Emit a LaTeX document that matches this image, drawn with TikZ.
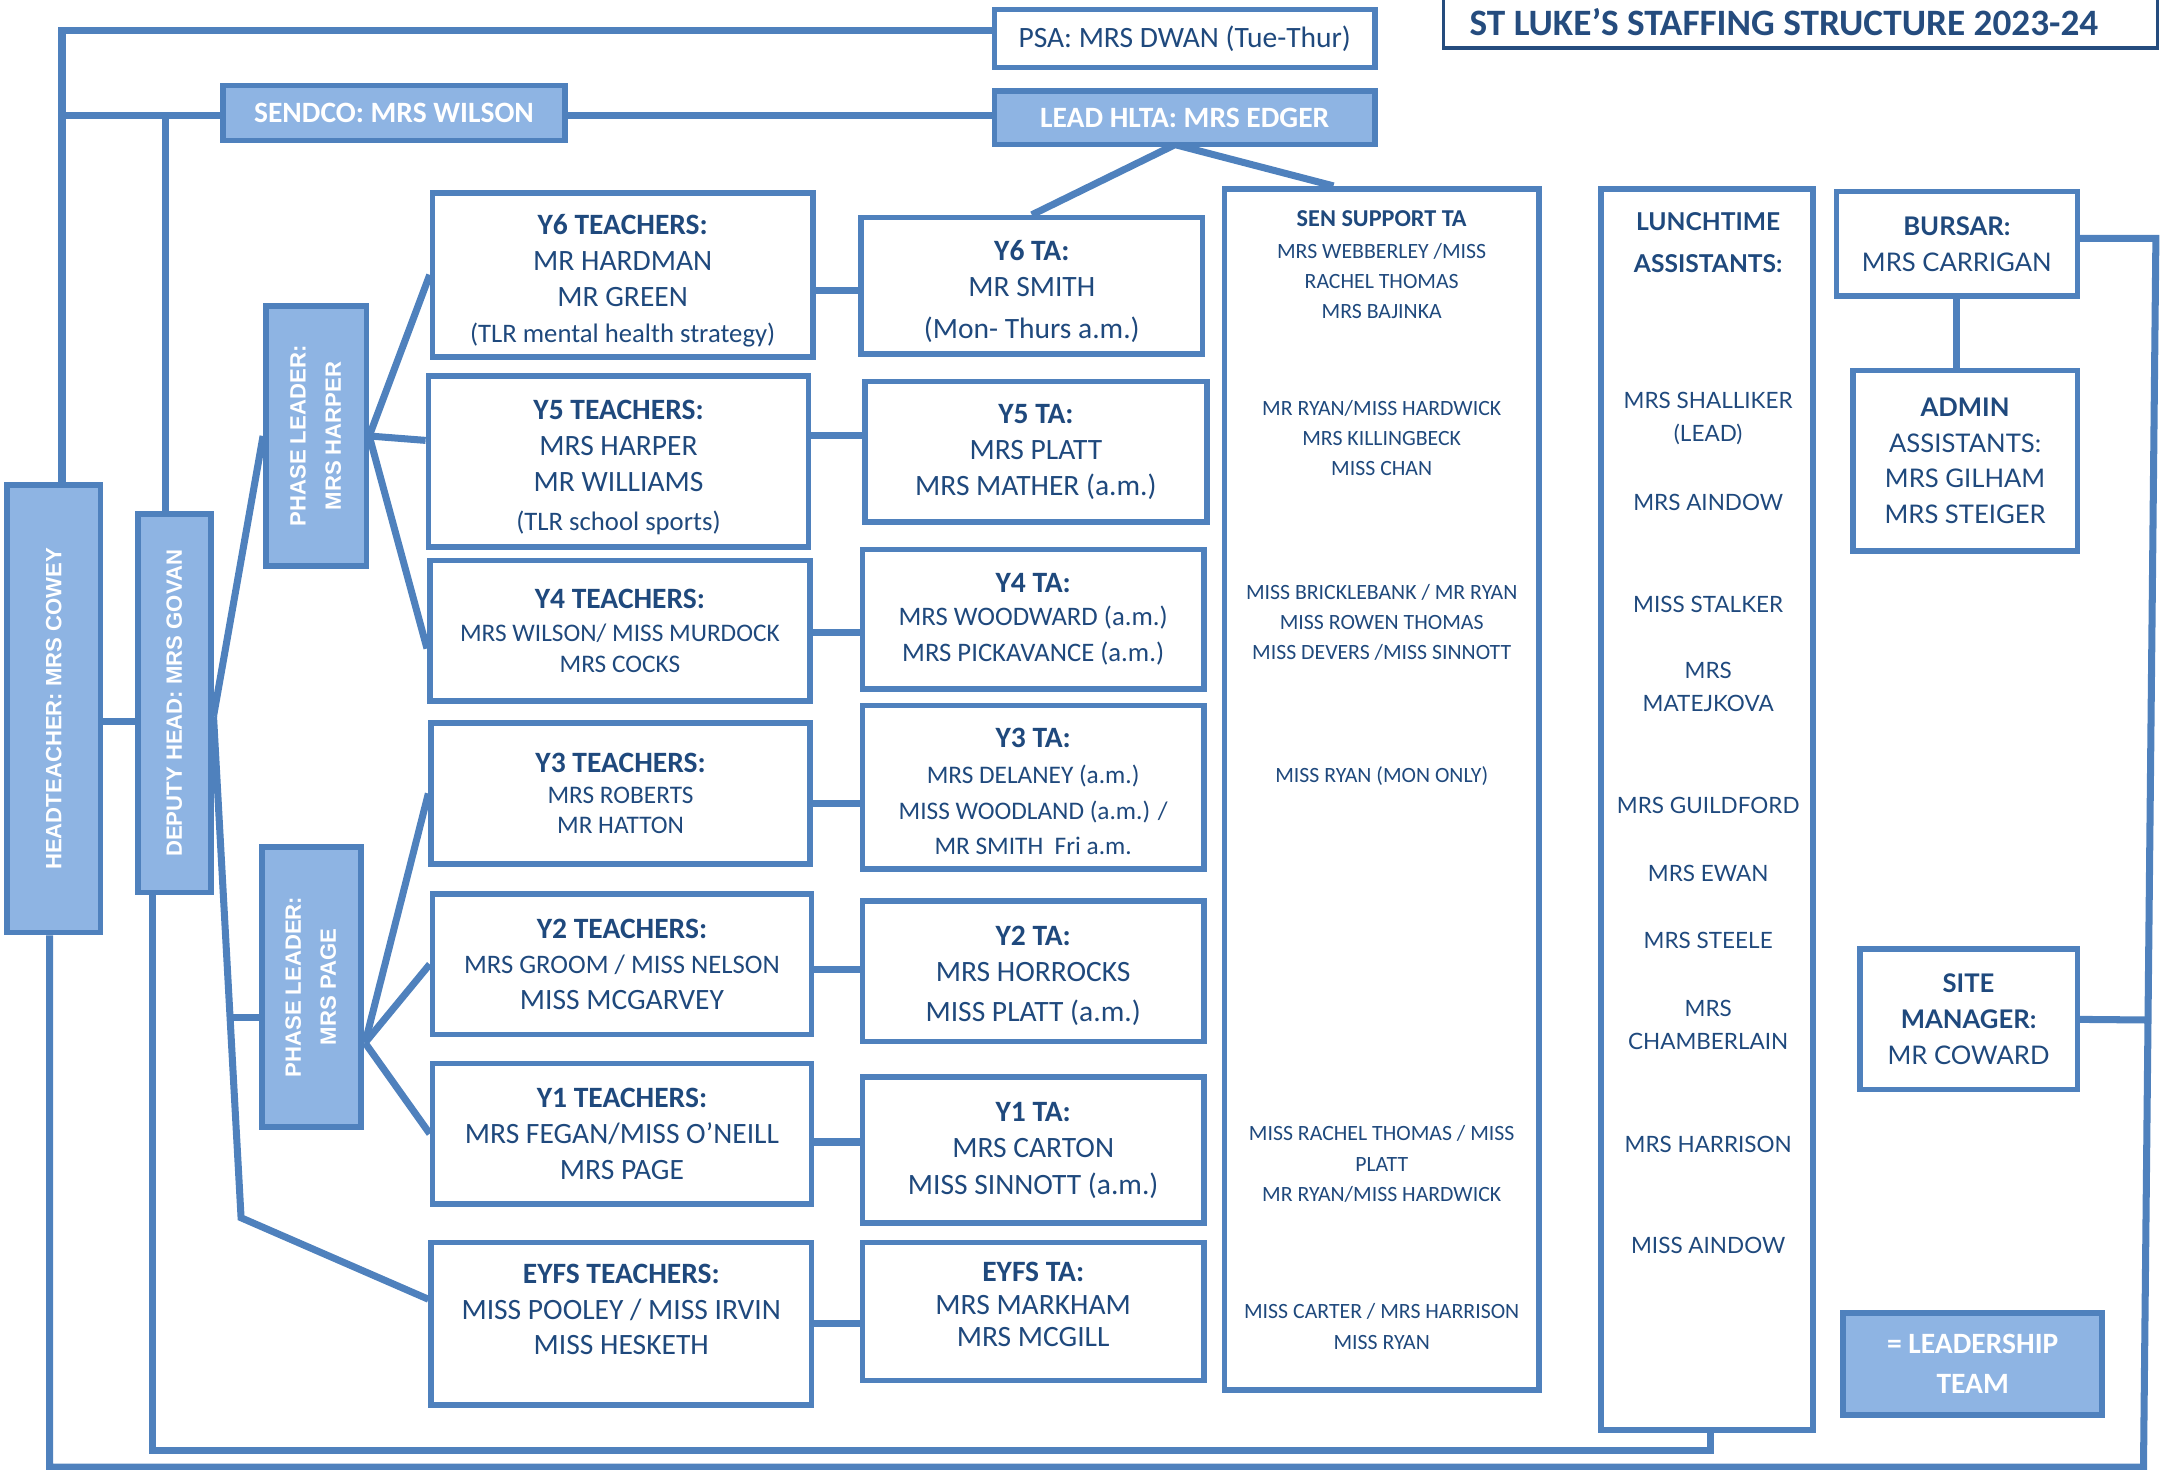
\documentclass[tikz,border=0pt]{standalone}
\usepackage{fontspec}
\setmainfont{Carlito}
\newfontfamily\arialfont{Liberation Sans}
\newfontfamily\gillfont{Lato}
\usepackage{graphicx}
\usetikzlibrary{calc,positioning,backgrounds}
\definecolor{lineblue}{HTML}{4F81BD}
\definecolor{leadfill}{HTML}{8EB4E3}
\definecolor{txtblue}{HTML}{1F497D}
\definecolor{titleblue}{HTML}{254C7E}
\newcommand{\px}{0.013776cm}
\newcommand{\boxsz}{\fontsize{8.4}{10.2}\selectfont}
\newcommand{\smsz}{\fontsize{7.6}{10.2}\selectfont}
\newcommand{\namesz}{\fontsize{7.2}{10.2}\selectfont}
\newcommand{\sensz}{\fontsize{6.2}{8.6}\selectfont}
\newcommand{\gillsz}{\gillfont\fontsize{7.3}{10.2}\selectfont}
\newcommand{\lunchsz}{\gillfont\fontsize{6.4}{9.4}\selectfont}
\newcommand{\vertsz}{\arialfont\bfseries\fontsize{6.3}{10}\selectfont}
\newcommand{\topgap}[1]{\rule{0pt}{#1}}
\tikzset{
  link/.style={draw=lineblue,line width=2pt},
  spans/.style n args={4}{at={({(#1+#3)/2},{(#2+#4)/2})},minimum width={(#3-#1)*\px},minimum height={(#4-#2)*\px}},
  staffbox/.style={draw=lineblue,line width=1.6pt,fill=white,inner sep=0pt,align=center,text=txtblue,font=\boxsz},
  leadbox/.style={staffbox,fill=leadfill,text=white,font=\boxsz\bfseries},
  sentext/.style={align=center,text=txtblue,font=\sensz,inner sep=0pt},
  lunchtext/.style={align=center,text=txtblue,font=\lunchsz,inner sep=0pt},
}

\begin{document}
\begin{tikzpicture}[x=\px,y=-\px]
  \useasboundingbox (0,0) rectangle (1568,1067);
  % title
  \node[draw=titleblue,line width=1pt,inner sep=0pt,spans={1048}{-20}{1566}{35}] (title) {};
  \node[text=titleblue,font=\fontsize{10.6}{12}\selectfont\bfseries] (titletext) at (1295,16) {ST LUKE’S STAFFING STRUCTURE 2023-24};

  % leadership
  \node[staffbox,spans={722}{7}{998}{49}] (psa) {PSA: MRS DWAN (Tue-Thur)};
  \node[leadbox,spans={162}{62}{410}{102}] (sendco) {SENDCO: MRS WILSON};
  \node[leadbox,spans={722}{66}{998}{105}] (hlta) {LEAD HLTA: MRS EDGER};
  \node[leadbox,spans={5}{352}{73}{677}] (head) {\rotatebox{90}{\vertsz HEADTEACHER: MRS COWEY}};
  \node[leadbox,spans={100}{373}{153}{648}] (deputy) {\rotatebox{90}{\vertsz DEPUTY HEAD: MRS GOVAN}};
  \node[leadbox,spans={193}{222}{266}{411}] (harper) {\rotatebox{90}{\vertsz\begin{tabular}{@{}c@{}}PHASE LEADER:\\MRS HARPER\end{tabular}}};
  \node[leadbox,spans={190}{615}{262}{818}] (page) {\rotatebox{90}{\vertsz\begin{tabular}{@{}c@{}}PHASE LEADER:\\MRS PAGE\end{tabular}}};

  % teachers
  \node[staffbox,spans={314}{140}{590}{259}] (y6t) {\topgap{9pt}\textbf{Y6 TEACHERS:}\\MR HARDMAN\\MR GREEN\\{\smsz(TLR mental health strategy)}};
  \node[staffbox,spans={311}{273}{587}{397}] (y5t) {\topgap{9pt}\textbf{Y5 TEACHERS:}\\MRS HARPER\\MR WILLIAMS\\[1pt]{\smsz(TLR school sports)}};
  \node[staffbox,spans={312}{407}{588}{509}] (y4t) {\textbf{Y4 TEACHERS:}\\[-0.8pt]{\namesz MRS WILSON/ MISS MURDOCK}\\[-1.6pt]{\namesz MRS COCKS}};
  \node[staffbox,spans={313}{525}{588}{627}] (y3t) {\textbf{Y3 TEACHERS:}\\[-1.2pt]{\namesz MRS ROBERTS}\\[-1.6pt]{\namesz MR HATTON}};
  \node[staffbox,spans={314}{649}{589}{751}] (y2t) {\textbf{Y2 TEACHERS:}\\{\smsz MRS GROOM / MISS NELSON}\\MISS MCGARVEY};
  \node[staffbox,spans={314}{772}{589}{874}] (y1t) {\textbf{Y1 TEACHERS:}\\MRS FEGAN/MISS O’NEILL\\MRS PAGE};
  \node[staffbox,spans={313}{902}{589}{1020}] (eyfst) {\textbf{EYFS TEACHERS:}\\MISS POOLEY / MISS IRVIN\\MISS HESKETH\\[-2pt]\mbox{}};

  % teaching assistants
  \node[staffbox,spans={625}{158}{873}{257}] (y6ta) {\topgap{9pt}\textbf{Y6 TA:}\\MR SMITH\\[2pt](Mon- Thurs a.m.)};
  \node[staffbox,spans={628}{277}{876}{379}] (y5ta) {\textbf{Y5 TA:}\\MRS PLATT\\MRS MATHER (a.m.)};
  \node[staffbox,spans={626}{399}{874}{500}] (y4ta) {\textbf{Y4 TA:}\\[-0.8pt]{\smsz MRS WOODWARD (a.m.)}\\{\smsz MRS PICKAVANCE (a.m.)}};
  \node[staffbox,spans={626}{512}{874}{631}] (y3ta) {\topgap{8pt}\textbf{Y3 TA:}\\{\namesz MRS DELANEY (a.m.)}\\{\namesz MISS WOODLAND (a.m.) /}\\{\namesz MR SMITH\ \ Fri a.m.}};
  \node[staffbox,spans={626}{654}{874}{756}] (y2ta) {\topgap{8pt}\textbf{Y2 TA:}\\MRS HORROCKS\\[1.2pt]MISS PLATT (a.m.)};
  \node[staffbox,spans={626}{782}{874}{888}] (y1ta) {\textbf{Y1 TA:}\\MRS CARTON\\[0.4pt]MISS SINNOTT (a.m.)};
  \node[staffbox,spans={626}{902}{874}{1002}] (eyfsta) {\textbf{EYFS TA:}\\[-0.8pt]MRS MARKHAM\\[-1.2pt]MRS MCGILL\\[-6pt]\mbox{}};

  % SEN support column
  \node[staffbox,spans={889}{137}{1117}{1009}] (sen) {};
  \node[sentext,font=\fontsize{6.9}{8.6}\selectfont\bfseries] (senhead) at (1003,159) {SEN SUPPORT TA};
  \foreach \i/\yy/\txt in {
    1/204/{MRS WEBBERLEY /MISS\\RACHEL THOMAS\\MRS BAJINKA},
    2/318/{MR RYAN/MISS HARDWICK\\MRS KILLINGBECK\\MISS CHAN},
    3/452/{MISS BRICKLEBANK / MR RYAN\\MISS ROWEN THOMAS\\MISS DEVERS /MISS SINNOTT},
    4/563/{MISS RYAN (MON ONLY)},
    5/845/{MISS RACHEL THOMAS / MISS\\PLATT\\MR RYAN/MISS HARDWICK},
    6/963/{MISS CARTER / MRS HARRISON\\MISS RYAN}}
    \node[sentext] (sen\i) at (1003,\yy) {\txt};

  % lunchtime column
  \node[staffbox,spans={1162}{137}{1316}{1038}] (lunch) {};
  \node[lunchtext,font=\gillfont\fontsize{7}{11.8}\selectfont\bfseries] (lunchhead) at (1240,176) {LUNCHTIME\\ASSISTANTS:};
  \foreach \i/\yy/\txt in {
    1/304/{MRS SHALLIKER\\(LEAD)},
    2/365/MRS AINDOW,
    3/439/MISS STALKER,
    4/499/{MRS\\MATEJKOVA},
    5/585/MRS GUILDFORD,
    6/634/MRS EWAN,
    7/683/MRS STEELE,
    8/744/{MRS\\CHAMBERLAIN},
    9/831/MRS HARRISON,
    10/904/MISS AINDOW}
    \node[lunchtext] (lunch\i) at (1240,\yy) {\txt};

  % office and site
  \node[staffbox,font=\gillsz,spans={1333}{139}{1508}{215}] (bursar) {\textbf{BURSAR:}\\MRS CARRIGAN};
  \node[staffbox,font=\gillsz,spans={1345}{269}{1508}{400}] (admin) {\textbf{ADMIN}\\ASSISTANTS:\\MRS GILHAM\\MRS STEIGER};
  \node[staffbox,font=\gillsz,spans={1350}{689}{1508}{791}] (site) {\textbf{SITE}\\\textbf{MANAGER:}\\MR COWARD};
  \node[leadbox,spans={1338}{953}{1526}{1027}] (legend) {= LEADERSHIP\\[1.2pt]TEAM};

  % connectors
  \coordinate (hk1) at (45,22);
  \coordinate (hk2) at (45,84);
  \coordinate (dk) at (120,84);
  \coordinate (hd) at (0,524);
  \coordinate (dfork) at (155,520);
  \coordinate (efork) at (175,884);
  \coordinate (pfork) at ($(dfork)!0.6!(efork)$);
  \coordinate (pagefork) at (265,757);
  \coordinate (hltafork) at (853,105);
  \coordinate (lk1) at (1242,1053);
  \coordinate (lk2) at (111,1053);
  \coordinate (rk1) at (36,1065);
  \coordinate (rk2) at (1556,1065);
  \coordinate (rk3) at (1565,173);
  \begin{scope}[on background layer]
    \draw[link] (head.north -| hk1) -- (hk1) -- (psa.west |- hk1);
    \draw[link] (hk2) -- (sendco.west |- hk2);
    \draw[link] (sendco.east |- hk2) -- (hlta.west |- hk2);
    \draw[link] (deputy.north -| dk) -- (dk);
    \draw[link] (head.east |- hd) -- (deputy.west |- hd);
    \draw[link] (dfork) -- (harper.west);
    \draw[link] (dfork) -- (efork) -- ([yshift=7pt]eyfst.west);
    \draw[link] (pfork) -- (pfork -| page.west);
    \draw[link] (harper.east) -- (y6t.west);
    \draw[link] (harper.east) -- ([yshift=6pt]y5t.west);
    \draw[link] (harper.east) -- ([yshift=-5pt]y4t.west);
    \draw[link] (pagefork) -- (y3t.west);
    \draw[link] (pagefork) -- (y2t.west);
    \draw[link] (pagefork) -- (y1t.west);
    \foreach \tnode/\anode/\yy in {y6t/y6ta/211,y5t/y5ta/316,y4t/y4ta/459,y3t/y3ta/583,y2t/y2ta/704,y1t/y1ta/829,eyfst/eyfsta/961}
      \draw[link] (\tnode.east |- 0,\yy) -- (\anode.west |- 0,\yy);
    \draw[link] (y6ta.north) -- (hltafork) -- (sen.north -| 968,0);
    \draw[link] (lunch.south -| lk1) -- (lk1) -- (lk2) -- (deputy.south -| lk2);
    \draw[link] (head.south -| rk1) -- (rk1) -- (rk2) -- (rk3) -- (bursar.east |- rk3);
    \draw[link] (site.east) -- ($(rk3)!(site.east)!(rk2)$);
    \draw[link] (bursar.south) -- (bursar.south |- admin.north);
  \end{scope}
\end{tikzpicture}
\end{document}
